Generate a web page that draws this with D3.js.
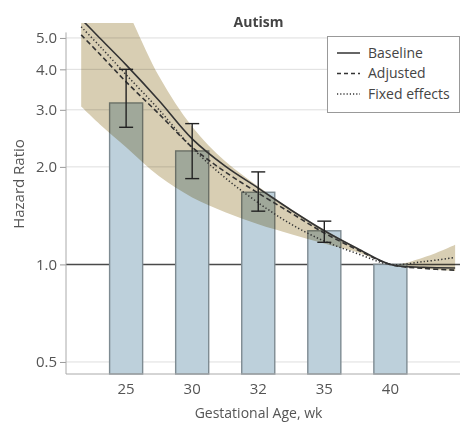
<!DOCTYPE html>
<html>
<head>
<meta charset="utf-8">
<script src="https://cdn.jsdelivr.net/npm/d3@7"></script>
<style>
  body { margin: 0; background: #fff; }
  svg { display: block; font-family: "Open Sans", sans-serif; }
</style>
</head>
<body>
<svg id="chart" width="462" height="423"></svg>
<script>
// bars + 95% CI per gestational age category
const categories = ["25", "30", "32", "35", "40"];
const barValues = [3.15, 2.24, 1.67, 1.27, 1.0];
const ciLow = [2.65, 1.84, 1.46, 1.17, null];
const ciHigh = [4.0, 2.72, 1.93, 1.36, null];
const yTicks = [0.5, 1, 2, 3, 4, 5];

// fitted curves, position in category units (0 = first bar)
const curvePos = [-0.68, -0.4, 0, 0.5, 1, 1.5, 2, 2.5, 3, 3.5, 4, 4.5, 4.98];
const baseline = [5.72, 5.0, 4.13, 3.2, 2.44, 2.01, 1.72, 1.47, 1.27, 1.12, 1.0, 0.98, 0.975];
const adjusted = [5.11, 4.46, 3.66, 2.91, 2.30, 1.93, 1.66, 1.44, 1.25, 1.11, 1.0, 0.972, 0.96];
const fixedEffects = [5.41, 4.72, 3.85, 3.0, 2.29, 1.85, 1.55, 1.33, 1.18, 1.08, 1.0, 1.02, 1.05];
const bandUpper = [12, 9, 6.2, 3.8, 2.66, 2.08, 1.74, 1.48, 1.28, 1.125, 1.0, 1.05, 1.15];
const bandLower = [3.07, 2.71, 2.3, 1.87, 1.61, 1.45, 1.33, 1.24, 1.16, 1.09, 1.0, 0.97, 0.955];

const legendItems = [
  { name: "Baseline", dash: null },
  { name: "Adjusted", dash: "4,3" },
  { name: "Fixed effects", dash: "1.2,2" }
];

const plotLeft = 66, plotRight = 460, plotTop = 23, plotBottom = 374;

const svg = d3.select("#chart");

//scales
const x = d3.scaleBand()
  .domain(categories)
  .range([plotLeft, 450.5])
  .paddingInner(0.5)
  .paddingOuter(0.66);

const pos = d3.scaleLinear()
  .domain([0, categories.length - 1])
  .range([x(categories[0]) + x.bandwidth() / 2, x(categories[categories.length - 1]) + x.bandwidth() / 2]);

const y = d3.scaleLog()
  .domain([0.459, 5.56])
  .range([plotBottom, plotTop]);

svg.append("defs").append("clipPath").attr("id", "plotClip")
  .append("rect")
  .attr("x", plotLeft).attr("y", plotTop)
  .attr("width", plotRight - plotLeft).attr("height", plotBottom - plotTop);

//grid lines
svg.append("g")
  .selectAll("line")
  .data(yTicks.filter(d => d !== 1))
  .join("line")
  .attr("x1", plotLeft).attr("x2", plotRight)
  .attr("y1", d => y(d)).attr("y2", d => y(d))
  .attr("stroke", "#dedede")
  .attr("stroke-width", 1);

//reference line at 1.0
svg.append("line")
  .attr("x1", plotLeft).attr("x2", plotRight)
  .attr("y1", y(1)).attr("y2", y(1))
  .attr("stroke", "#4a4a4a")
  .attr("stroke-width", 1.5);

//bars
svg.append("g")
  .selectAll("rect")
  .data(categories)
  .join("rect")
  .attr("x", d => x(d))
  .attr("width", x.bandwidth())
  .attr("y", (d, i) => y(barValues[i]))
  .attr("height", (d, i) => plotBottom - y(barValues[i]))
  .attr("fill", "#bdd0db")
  .attr("stroke", "#7e8b92")
  .attr("stroke-width", 1.4);

const pts = (vals) => curvePos.map((p, i) => [pos(p), y(vals[i])]);

//confidence band, multiplied over the bars
const bandGroup = svg.append("g")
  .style("mix-blend-mode", "multiply");

const area = d3.area()
  .x((d, i) => pos(curvePos[i]))
  .y0((d, i) => y(bandLower[i]))
  .y1((d, i) => y(bandUpper[i]))
  .curve(d3.curveCatmullRom.alpha(0.5));

bandGroup.append("g")
  .attr("clip-path", "url(#plotClip)")
  .append("path")
  .datum(curvePos)
  .attr("d", area)
  .attr("fill", "#d8ceb3");

const plot = svg.append("g").attr("clip-path", "url(#plotClip)");

const line = d3.line().curve(d3.curveCatmullRom.alpha(0.5));

const series = [
  { vals: baseline, dash: null, w: 1.6 },
  { vals: adjusted, dash: "5,3", w: 1.6 },
  { vals: fixedEffects, dash: "1.3,2.2", w: 1.5 }
];

series.forEach(s => {
  plot.append("path")
    .attr("d", line(pts(s.vals)))
    .attr("fill", "none")
    .attr("stroke", "#333")
    .attr("stroke-width", s.w)
    .attr("stroke-dasharray", s.dash);
});

//error bars
const capW = 14;
const err = svg.append("g");
categories.forEach((c, i) => {
  if (ciLow[i] == null) return;
  const cx = x(c) + x.bandwidth() / 2;
  err.append("line")
    .attr("x1", cx).attr("x2", cx)
    .attr("y1", y(ciLow[i])).attr("y2", y(ciHigh[i]));
  [ciLow[i], ciHigh[i]].forEach(v => {
    err.append("line")
      .attr("x1", cx - capW / 2).attr("x2", cx + capW / 2)
      .attr("y1", y(v)).attr("y2", y(v));
  });
});
err.selectAll("line").attr("stroke", "#222").attr("stroke-width", 1.4);

//axes
const yAxis = d3.axisLeft(y)
  .tickValues(yTicks)
  .tickFormat(d3.format(".1f"))
  .tickSize(6)
  .tickPadding(3);

const yAxisGroup = svg.append("g")
  .attr("transform", `translate(${plotLeft},0)`)
  .call(yAxis);
yAxisGroup.select(".domain").remove();
yAxisGroup.selectAll("line").attr("stroke", "#999");
yAxisGroup.selectAll("text")
  .attr("fill", "#555")
  .style("font-size", "15px")
  .style("font-family", "Open Sans");

svg.append("line")
  .attr("x1", plotLeft).attr("x2", plotLeft)
  .attr("y1", y(5.2)).attr("y2", plotBottom)
  .attr("stroke", "#aaa");

svg.append("line")
  .attr("x1", plotLeft).attr("x2", plotRight)
  .attr("y1", plotBottom).attr("y2", plotBottom)
  .attr("stroke", "#aaa");

const xAxis = d3.axisBottom(x).tickSize(0).tickPadding(9);
const xAxisGroup = svg.append("g")
  .attr("transform", `translate(0,${plotBottom})`)
  .call(xAxis);
xAxisGroup.select(".domain").remove();
xAxisGroup.selectAll("text")
  .attr("fill", "#555")
  .style("font-size", "15px")
  .style("font-family", "Open Sans");

//titles
svg.append("text")
  .attr("x", (plotLeft + 451) / 2).attr("y", 27)
  .attr("text-anchor", "middle")
  .attr("font-weight", "bold")
  .attr("font-size", 14)
  .attr("fill", "#444")
  .text("Autism");

svg.append("text")
  .attr("x", (plotLeft + 451) / 2).attr("y", 418)
  .attr("text-anchor", "middle")
  .attr("font-size", 14)
  .attr("fill", "#555")
  .text("Gestational Age, wk");

svg.append("text")
  .attr("transform", "translate(24,184) rotate(-90)")
  .attr("text-anchor", "middle")
  .attr("font-size", 15)
  .attr("fill", "#555")
  .text("Hazard Ratio");

//legend
const legend = svg.append("g");
legend.append("rect")
  .attr("x", 327.5).attr("y", 36.5)
  .attr("width", 132).attr("height", 76)
  .attr("fill", "#fff")
  .attr("stroke", "#999");

legendItems.forEach((item, i) => {
  const ly = 53 + i * 20.5;
  legend.append("line")
    .attr("x1", 337).attr("x2", 360)
    .attr("y1", ly).attr("y2", ly)
    .attr("stroke", "#333")
    .attr("stroke-width", 1.5)
    .attr("stroke-dasharray", item.dash);
  legend.append("text")
    .attr("x", 368).attr("y", ly)
    .attr("dy", "0.35em")
    .attr("font-size", 14)
    .attr("fill", "#444")
    .text(item.name);
});
</script>
</body>
</html>
